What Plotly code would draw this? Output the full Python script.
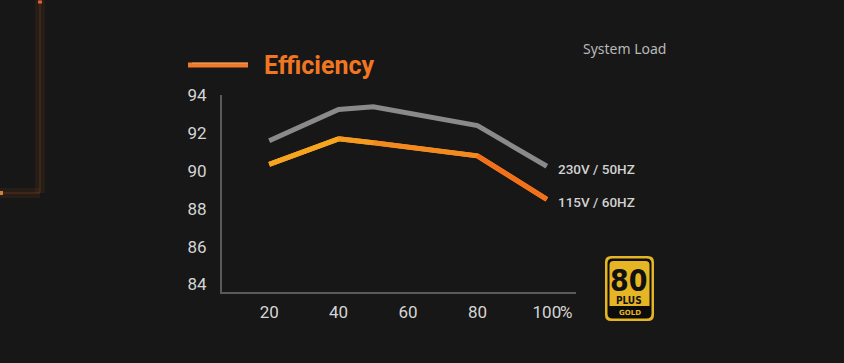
import plotly.graph_objects as go

# ---- data ----
load = [20, 40, 50, 80, 100]
eff_230 = [91.6, 93.25, 93.4, 92.4, 90.25]
eff_115 = [90.35, 91.7, 91.5, 90.8, 88.5]
x_ticks = [20, 40, 60, 80, 100]
x_tick_labels = ["20", "40", "60", "80", "100"]
y_ticks = [84, 86, 88, 90, 92, 94]
series_labels = ["230V / 50HZ", "115V / 60HZ"]

W, H = 844, 363
L, R, T, B = 222, 268, 95, 71
PW, PH = W - L - R, H - T - B


def px(x, y):
    return (x - L) / PW, 1 - (y - T) / PH


BG = "#171717"
GRAY = "#8a8a8a"
ORANGE_SEG = ["#f6a61e", "#f59a1f", "#f48a1f", "#f2701c"]
GOLD = "#e6b523"

fig = go.Figure()

# gray series
fig.add_trace(go.Scatter(x=load, y=eff_230, mode="lines",
                         line=dict(color=GRAY, width=5), hoverinfo="skip"))
# orange series: base line + gradient segments
fig.add_trace(go.Scatter(x=load, y=eff_115, mode="lines",
                         line=dict(color=ORANGE_SEG[1], width=5), hoverinfo="skip"))
for i in range(len(load) - 1):
    fig.add_trace(go.Scatter(x=load[i:i + 2], y=eff_115[i:i + 2], mode="lines",
                             line=dict(color=ORANGE_SEG[i], width=5), hoverinfo="skip"))

shapes = []


def line_px(x0, y0, x1, y1, color, width):
    a, b = px(x0, y0)
    c, d = px(x1, y1)
    shapes.append(dict(type="line", xref="paper", yref="paper", x0=a, y0=b, x1=c, y1=d,
                       line=dict(color=color, width=width), layer="below"))


def rrect_px(x0, y0, x1, y1, r, fill, rt=True, rb=True):
    rb_ = r if rb else 0
    rt_ = r if rt else 0

    def P(x, y):
        a, b = px(x, y)
        return f"{a:.5f},{b:.5f}"
    path = (f"M {P(x0 + rt_, y0)} L {P(x1 - rt_, y0)} Q {P(x1, y0)} {P(x1, y0 + rt_)} "
            f"L {P(x1, y1 - rb_)} Q {P(x1, y1)} {P(x1 - rb_, y1)} "
            f"L {P(x0 + rb_, y1)} Q {P(x0, y1)} {P(x0, y1 - rb_)} "
            f"L {P(x0, y0 + rt_)} Q {P(x0, y0)} {P(x0 + rt_, y0)} Z")
    shapes.append(dict(type="path", xref="paper", yref="paper", path=path,
                       fillcolor=fill, line=dict(width=0), layer="above"))


# decorative faint frame on the left
line_px(40, 0, 40, 193, "rgba(140,70,25,0.14)", 10)
line_px(40, 193, 0, 193, "rgba(140,70,25,0.14)", 10)
line_px(40, 0, 40, 193, "rgba(120,60,25,0.3)", 2)
line_px(40, 193, 0, 193, "rgba(120,60,25,0.3)", 2)
line_px(38, 2, 42, 2, "#e0603a", 3)
line_px(0, 193, 3, 193, "#d08040", 4)

# legend swatch
line_px(188, 65, 248, 65, "#f07a2c", 5)
line_px(192, 63, 248, 63, "rgba(255,200,150,0.55)", 1)

# 80 PLUS Gold badge
rrect_px(605, 256, 654, 321, 6, GOLD)
rrect_px(607.5, 258.5, 651.5, 318.5, 5, "#0c0c0c")
rrect_px(609.5, 261, 649.5, 306, 4, GOLD, rb=False)

annotations = []


def text_px(x, y, s, size, color, family="Roboto", weight="normal", xanchor="center",
            yanchor="middle"):
    a, b = px(x, y)
    annotations.append(dict(xref="paper", yref="paper", x=a, y=b, text=s, showarrow=False,
                            xanchor=xanchor, yanchor=yanchor, borderpad=0,
                            font=dict(size=size, color=color, family=family, weight=weight)))


text_px(263, 65, "Efficiency", 25, "#f07622", weight="bold", xanchor="left")
text_px(582, 48, "System Load", 14, "#b8b8b8", family="Noto Sans", xanchor="left")
text_px(629, 307, "<span style='font-size:30px'>80</span><br>PLUS", 10, "#111111",
        family="Liberation Sans Narrow, DejaVu Sans Condensed", weight="bold",
        yanchor="bottom")
text_px(629.5, 313, "GOLD", 7, GOLD, family="DejaVu Sans", weight="bold")
text_px(559, 312, "%", 17, "#d5d5d5", xanchor="left")

# series end labels
for ys, lab in zip([eff_230, eff_115], series_labels):
    annotations.append(dict(x=load[-1], y=ys[-1], xref="x", yref="y", text=lab,
                            showarrow=False, xanchor="left", yanchor="middle",
                            xshift=9, yshift=-3,
                            font=dict(size=13.5, color="#d2d2d2", family="Roboto", weight=500)))

fig.update_layout(
    width=W, height=H, autosize=False,
    margin=dict(l=L, r=R, t=T, b=B),
    paper_bgcolor=BG, plot_bgcolor=BG,
    showlegend=False,
    shapes=shapes, annotations=annotations,
    font=dict(family="Roboto", color="#d5d5d5"),
)
fig.update_xaxes(range=[6.4, 108.4], tickvals=x_ticks, ticktext=x_tick_labels,
                 showgrid=False, zeroline=False, showline=True, linecolor="#5a5a5a",
                 linewidth=2, ticks="", ticklabelstandoff=4,
                 tickfont=dict(size=17, color="#d5d5d5", family="Roboto"))
fig.update_yaxes(range=[83.6, 94.02], tickvals=y_ticks,
                 showgrid=False, zeroline=False, showline=True, linecolor="#5a5a5a",
                 linewidth=2, ticks="", ticklabelstandoff=10,
                 tickfont=dict(size=17, color="#d5d5d5", family="Roboto"))

fig.write_html("out.html", config={"displayModeBar": False},
               post_script="document.body.style.margin='0';document.body.style.background='#171717';")
